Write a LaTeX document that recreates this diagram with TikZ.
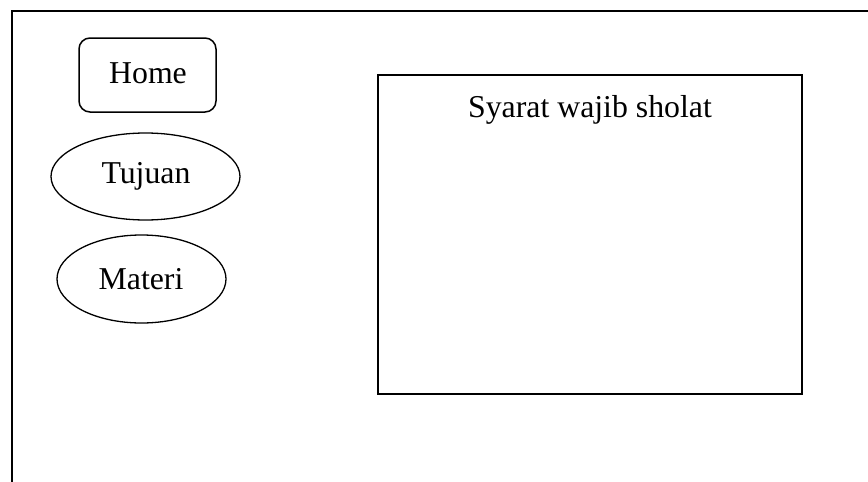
\documentclass[tikz,border=0pt]{standalone}
\usepackage{fontspec}
\setmainfont{Liberation Serif}
\usetikzlibrary{shapes.geometric}
\begin{document}
\begin{tikzpicture}[x=1pt,y=-1pt,
  line width=1.6pt,
  lbl/.style={font=\fontsize{31.8}{36}\selectfont, inner sep=0pt},
  menuoval/.style={draw, ellipse, inner sep=0pt, line width=1.3pt},
  menubox/.style={draw, rounded corners=11pt, inner sep=0pt, line width=1.5pt}]
\useasboundingbox (0,0) rectangle (868,482);
\coordinate (ftl) at (12,11);
\coordinate (ftr) at (868,11);
\coordinate (fbl) at (12,482);
\draw (ftr) -- (ftl) -- (fbl);
\node[menubox, minimum width=137pt, minimum height=74pt] (home) at (147.5,75) {};
\node[lbl] (hometxt) at (148,73) {Home};
\node[menuoval, minimum width=189pt, minimum height=87pt] (tujuan) at (145.5,176.5) {};
\node[lbl] (tujuantxt) at (146,176) {Tujuan};
\node[menuoval, minimum width=169pt, minimum height=88pt] (materi) at (141.5,279) {};
\node[lbl] (materitxt) at (141,279) {Materi};
\node[draw, minimum width=424pt, minimum height=319pt, inner sep=0pt] (content) at (590,234.5) {};
\node[lbl, anchor=base] (title) at (590,117) {Syarat wajib sholat};
\end{tikzpicture}
\end{document}
